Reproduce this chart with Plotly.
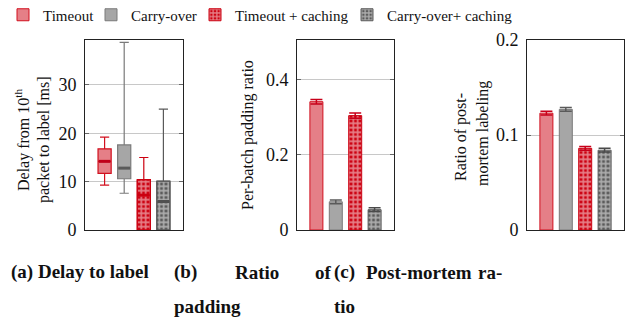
import plotly.graph_objects as go

# ---------------- data ----------------
categories = ["Timeout", "Carry-over", "Timeout + caching", "Carry-over+ caching"]
positions = [1, 2, 3, 4]

# (a) delay to label [ms] – box statistics
delay_lower = [9.3, 7.6, 0.0, 0.0]
delay_q1 = [11.7, 10.6, 0.0, 0.0]
delay_median = [14.2, 12.8, 7.2, 5.9]
delay_q3 = [16.8, 17.6, 10.4, 10.1]
delay_upper = [19.2, 38.8, 15.0, 25.0]

# (b) per-batch padding ratio
padding_ratio = [0.341, 0.075, 0.304, 0.054]
padding_err = [0.006, 0.005, 0.007, 0.005]

# (c) ratio of post-mortem labeling
postmortem_ratio = [0.123, 0.127, 0.086, 0.084]
postmortem_err = [0.002, 0.002, 0.002, 0.002]

# ---------------- styles ----------------
fills = ["#e57f87", "#a6a6a6", "#cc0010", "#5a5a5a"]
edges = ["#d2101f", "#7a7a7a", "#cc0010", "#5a5a5a"]
errc = ["#c8001a", "#5a5a5a", "#c8001a", "#4a4a4a"]
medc = ["#c0001a", "#5a5a5a", "#cc0010", "#505050"]
patterned = [False, False, True, True]
legend_ids = ["legend", "legend2", "legend3", "legend4"]
legend_text_px = [38, 126, 230, 382]

FONT = "Liberation Serif, Times New Roman, serif"
W, H = 644, 325
OFF = 8            # page body margin
ML, MT = 12, 24
PW, PH = W - ML, H - MT


def px2x(p):
    return (p - OFF - ML) / PW


def py2y(p):
    return (H - (p - OFF)) / PH


fig = go.Figure()


def pattern(i):
    if patterned[i]:
        return dict(shape="+", fgcolor="white", bgcolor=fills[i], size=4.5, solidity=0.6,
                    fillmode="overlay")
    return dict(shape="")


# (a) boxes
for i, cat in enumerate(categories):
    if patterned[i]:
        fig.add_trace(go.Bar(
            x=[positions[i]], y=[delay_q3[i] - delay_q1[i]], base=[delay_q1[i]],
            width=0.67, marker=dict(color=fills[i], line=dict(color=edges[i], width=1),
                                    pattern=pattern(i)),
            xaxis="x", yaxis="y", showlegend=False, hoverinfo="skip"))
    fig.add_trace(go.Box(
        x=[positions[i]], q1=[delay_q1[i]], median=[delay_median[i]], q3=[delay_q3[i]],
        lowerfence=[delay_lower[i]], upperfence=[delay_upper[i]],
        fillcolor="rgba(0,0,0,0)" if patterned[i] else fills[i],
        line=dict(color=edges[i], width=1.2),
        width=0.67, whiskerwidth=0.7, boxpoints=False,
        xaxis="x", yaxis="y", showlegend=False, hoverinfo="skip"))
    fig.add_trace(go.Scatter(
        x=[positions[i] - 0.30, positions[i] + 0.30], y=[delay_median[i]] * 2,
        mode="lines", line=dict(color=medc[i], width=3),
        xaxis="x", yaxis="y", showlegend=False, hoverinfo="skip"))

# (b) and (c) bars
for i, cat in enumerate(categories):
    fig.add_trace(go.Bar(
        x=[positions[i]], y=[padding_ratio[i]], width=0.67, name=cat,
        marker=dict(color=fills[i], line=dict(color=edges[i], width=1), pattern=pattern(i)),
        error_y=dict(type="data", array=[padding_err[i]], color=errc[i], thickness=1.5, width=6),
        xaxis="x2", yaxis="y2", showlegend=True, legend=legend_ids[i]))
    fig.add_trace(go.Bar(
        x=[positions[i]], y=[postmortem_ratio[i]], width=0.67, name=cat,
        marker=dict(color=fills[i], line=dict(color=edges[i], width=1), pattern=pattern(i)),
        error_y=dict(type="data", array=[postmortem_err[i]], color=errc[i], thickness=1.5, width=6),
        xaxis="x3", yaxis="y3", showlegend=False))

ydom = [py2y(230), py2y(40)]
axis_common = dict(showline=True, mirror="ticks", linecolor="#222", linewidth=1,
                   ticks="inside", ticklen=4, tickcolor="#666", ticklabelstandoff=4,
                   gridcolor="#c8c8c8", gridwidth=1, zeroline=False,
                   tickfont=dict(family=FONT, size=18, color="#111"))
xcommon = dict(showline=True, mirror=True, linecolor="#222", linewidth=1,
               showticklabels=False, ticks="", showgrid=False, zeroline=False, range=[0, 5])

legends = {}
for i, lid in enumerate(legend_ids):
    legends[lid] = dict(orientation="h", x=px2x(legend_text_px[i] - 35), y=py2y(15),
                        xanchor="left", yanchor="middle",
                        font=dict(family=FONT, size=15, color="#111"),
                        bgcolor="rgba(0,0,0,0)")

fig.update_layout(
    width=W, height=H, margin=dict(l=ML, r=0, t=MT, b=0, autoexpand=False),
    plot_bgcolor="white", paper_bgcolor="white",
    barmode="overlay", font=dict(family=FONT, color="#111"),
    xaxis=dict(domain=[px2x(85), px2x(183)], anchor="y", **xcommon),
    xaxis2=dict(domain=[px2x(297), px2x(394)], anchor="y2", **xcommon),
    xaxis3=dict(domain=[px2x(527), px2x(624)], anchor="y3", **xcommon),
    yaxis=dict(domain=ydom, anchor="x", range=[0, 39.3], tickvals=[0, 10, 20, 30], **axis_common),
    yaxis2=dict(domain=ydom, anchor="x2", range=[0, 0.505], tickvals=[0, 0.2, 0.4],
                ticktext=["0", "0.2", "0.4"], **axis_common),
    yaxis3=dict(domain=ydom, anchor="x3", range=[0, 0.2], tickvals=[0, 0.1, 0.2],
                ticktext=["0", "0.1", "0.2"], **axis_common),
    **legends,
)


def ann(text, x, y, size=16, bold=False, angle=0, xanchor="center"):
    fig.add_annotation(text=f"<b>{text}</b>" if bold else text, x=px2x(x), y=py2y(y),
                       xref="paper", yref="paper", showarrow=False, textangle=angle,
                       xanchor=xanchor, yanchor="middle",
                       font=dict(family=FONT, size=size, color="#111"))


# y-axis titles
ann("Delay from 10<sup>th</sup>", 22, 140, size=16, angle=-90)
ann("packet to label [ms]", 44, 140, size=16, angle=-90)
ann("Per-batch padding ratio", 248, 135, size=16, angle=-90)
ann("Ratio of post-", 461, 137, size=16, angle=-90)
ann("mortem labeling", 483, 134, size=16, angle=-90)

# subfigure captions
ann("(a) Delay to label", 9, 272, size=19, bold=True, xanchor="left")
ann("(b)", 172, 272, size=19, bold=True, xanchor="left")
ann("Ratio", 233, 272, size=19, bold=True, xanchor="left")
ann("of", 313, 272, size=19, bold=True, xanchor="left")
ann("padding", 172, 306, size=19, bold=True, xanchor="left")
ann("(c)", 332, 272, size=19, bold=True, xanchor="left")
ann("Post-mortem", 364, 272, size=19, bold=True, xanchor="left")
ann("ra-", 476, 272, size=19, bold=True, xanchor="left")
ann("tio", 332, 306, size=19, bold=True, xanchor="left")

fig.write_html("out.html")
